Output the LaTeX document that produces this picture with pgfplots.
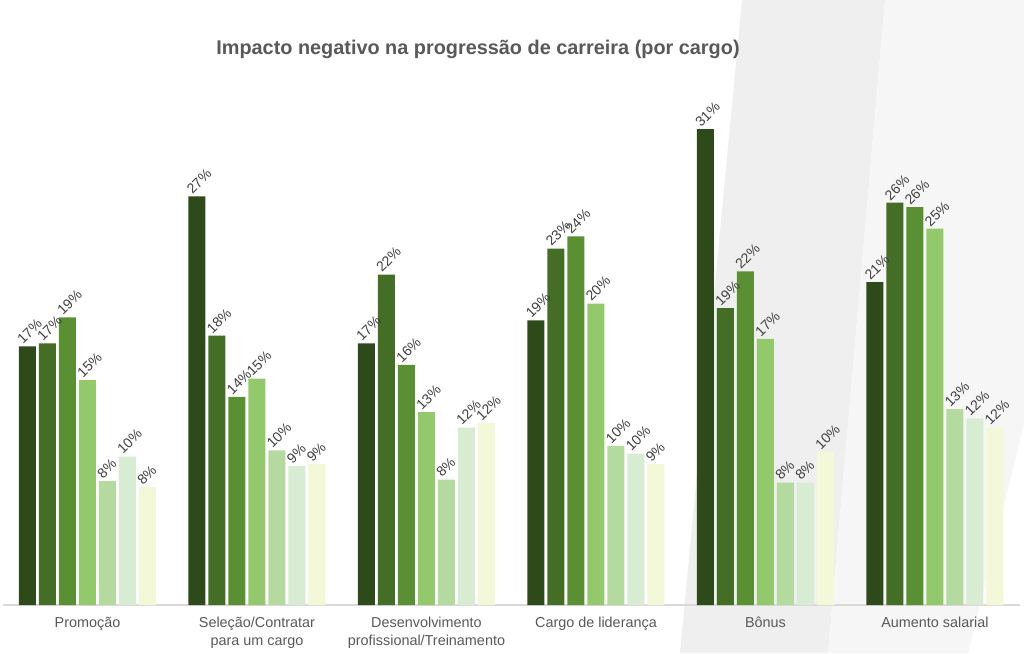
\documentclass[border=0pt]{standalone}
\usepackage{pgfplots}
\pgfplotsset{compat=1.18}
\usepackage{fontspec}
\setmainfont{Liberation Sans}
\definecolor{c1}{HTML}{2E4A1A}
\definecolor{c2}{HTML}{446D26}
\definecolor{c3}{HTML}{5A9033}
\definecolor{c4}{HTML}{93C96C}
\definecolor{c5}{HTML}{B5DAA0}
\definecolor{c6}{HTML}{D8EBD3}
\definecolor{c7}{HTML}{F2F8D8}
\definecolor{lbl}{HTML}{404040}
\definecolor{ttl}{HTML}{595959}
\definecolor{bgA}{HTML}{EFEFEF}
\definecolor{bgB}{HTML}{F6F6F6}
\begin{document}
\begin{tikzpicture}[x=0.75pt,y=0.75pt]
% page frame: 1024 x 653 px, y measured from bottom
\useasboundingbox (0,0) rectangle (1024,653);
\fill[white] (0,0) rectangle (1024,653);
\fill[bgA] (742,653) -- (885,653) -- (828,0) -- (680,0) -- cycle;
\fill[bgB] (885,653) -- (1024,653) -- (1024,230) -- (968,0) -- (828,0) -- cycle;
\begin{axis}[
  at={(65.6pt,36pt)}, anchor=origin,
  scale only axis,
  width=762.75pt, height=390.15pt,
  xmin=-0.5, xmax=5.5, ymin=0, ymax=34,
  axis x line*=bottom, axis y line=none,
  x axis line style={draw=black!15, line width=0.8pt, -},
  ytick=\empty,
  xtick={0,1,2,3,4,5},
  major tick length=0pt,
  xticklabels={Promoção, {Seleção/Contratar\\para um cargo}, {Desenvolvimento\\profissional/Treinamento}, Cargo de liderança, Bônus, Aumento salarial},
  xticklabel style={align=center, font=\fontsize{10.8}{13.5}\selectfont, text=ttl, yshift=-5.5pt},
  ybar=2.25pt, bar width=12.75pt,
  clip=false,
  /pgf/number format/assume math mode=true,
  nodes near coords={\pgfmathprintnumber[fixed,precision=0,assume math mode=true]{\pgfplotspointmeta}\%},
  every node near coord/.append style={xshift=-3.2pt, rotate=45, anchor=south west, inner sep=0.6pt, font=\fontsize{10.5}{12}\selectfont, text=lbl},
  every axis plot/.append style={draw=none},
]
\addplot[fill=c1] coordinates {(0,16.9) (1,26.7) (2,17.1) (3,18.6) (4,31.1) (5,21.1)};
\addplot[fill=c2] coordinates {(0,17.1) (1,17.6) (2,21.6) (3,23.3) (4,19.4) (5,26.3)};
\addplot[fill=c3] coordinates {(0,18.8) (1,13.6) (2,15.7) (3,24.1) (4,21.8) (5,26.0)};
\addplot[fill=c4] coordinates {(0,14.7) (1,14.8) (2,12.6) (3,19.7) (4,17.4) (5,24.6)};
\addplot[fill=c5] coordinates {(0,8.1) (1,10.1) (2,8.2) (3,10.4) (4,8.0) (5,12.8)};
\addplot[fill=c6] coordinates {(0,9.7) (1,9.1) (2,11.6) (3,9.9) (4,8.0) (5,12.2)};
\addplot[fill=c7] coordinates {(0,7.7) (1,9.2) (2,11.9) (3,9.2) (4,10.0) (5,11.6)};
\end{axis}
\node[font=\fontsize{14.9}{17}\selectfont\bfseries, text=ttl] at (478,604) {Impacto negativo na progressão de carreira (por cargo)};
\end{tikzpicture}
\end{document}
